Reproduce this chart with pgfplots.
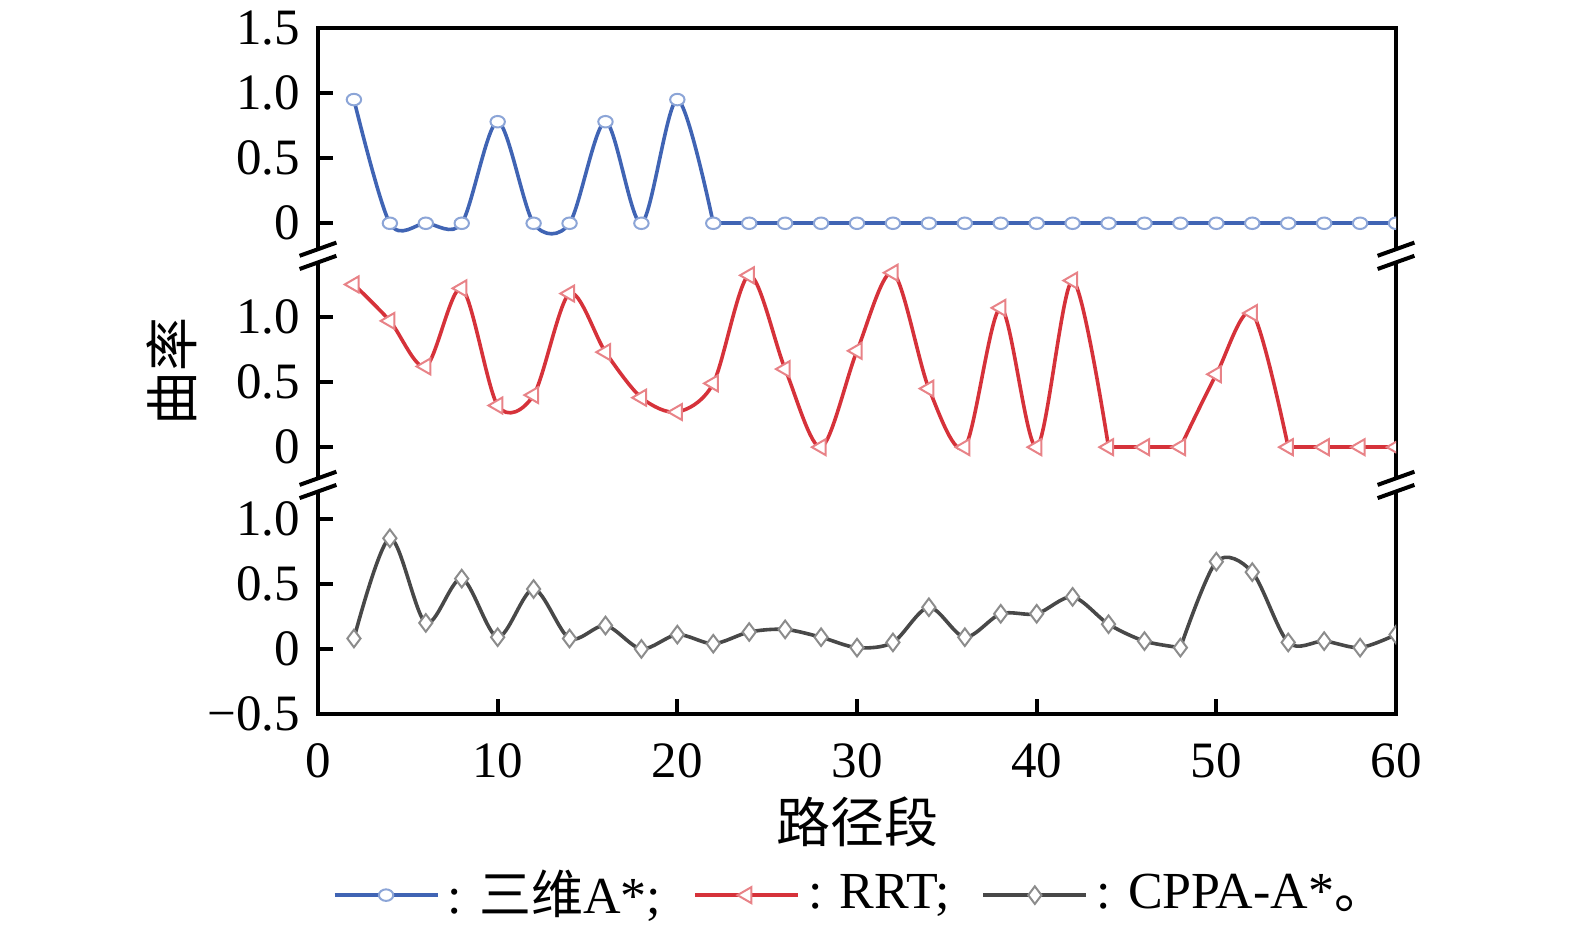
\documentclass[border=0pt]{standalone}
\usepackage{pgfplots}
\pgfplotsset{compat=1.18}
\usepackage{pgfplotstable}
\usepackage{fontspec}
\setmainfont{Liberation Serif}
\newfontfamily\cjk{Noto Sans CJK SC}

\pgfplotstableread{
x top mid bot
2  0.95 1.25 0.08
4  0.00 0.97 0.85
6  0.00 0.62 0.20
8  0.00 1.22 0.54
10 0.78 0.32 0.09
12 0.00 0.40 0.46
14 0.00 1.18 0.08
16 0.78 0.73 0.18
18 0.00 0.38 0.00
20 0.95 0.27 0.11
22 0.00 0.49 0.04
24 0.00 1.32 0.13
26 0.00 0.60 0.15
28 0.00 0.00 0.09
30 0.00 0.74 0.01
32 0.00 1.34 0.05
34 0.00 0.45 0.32
36 0.00 0.00 0.09
38 0.00 1.07 0.27
40 0.00 0.00 0.27
42 0.00 1.28 0.40
44 0.00 0.00 0.19
46 0.00 0.00 0.06
48 0.00 0.00 0.01
50 0.00 0.56 0.67
52 0.00 1.03 0.59
54 0.00 0.00 0.05
56 0.00 0.00 0.06
58 0.00 0.00 0.01
60 0.00 0.00 0.11
}\data

\definecolor{cblue}{RGB}{64,100,180}
\definecolor{cblueM}{RGB}{140,165,215}
\definecolor{cred}{RGB}{214,50,58}
\definecolor{credM}{RGB}{232,130,135}
\definecolor{cgray}{RGB}{72,72,72}
\definecolor{cgrayM}{RGB}{140,140,140}

\pgfplotsset{
  blueline/.style={cblue, line width=0.9pt},
  redline/.style={cred, line width=0.9pt},
  grayline/.style={cgray, line width=0.9pt},
  bluemark/.style={mark=*, mark size=1.8pt, mark options={draw=cblueM, fill=white, line width=0.5pt, yscale=0.8}},
  redmark/.style={mark=triangle*, mark size=2.3pt, mark options={draw=credM, fill=white, line width=0.5pt, rotate=90}},
  graymark/.style={mark=diamond*, mark size=2.2pt, mark options={draw=cgrayM, fill=white, line width=0.5pt}},
}

\begin{document}
\fontsize{12.75}{15}\selectfont
\begin{tikzpicture}
\begin{axis}[
  name=ax,
  scale only axis, width=269.5pt, height=171.5pt,
  xmin=0, xmax=60, ymin=-0.5, ymax=4.77,
  axis line style={line width=1pt},
  xtick={0,10,...,60},
  ytick={-0.5,0,0.5,1,1.55,2.05,2.55,3.27,3.77,4.27,4.77},
  yticklabels={−0.5,0,0.5,1.0,0,0.5,1.0,0,0.5,1.0,1.5},
  xtick pos=bottom, ytick pos=left,
  tick align=inside,
  major tick length=3.75pt,
  every tick/.style={black, line width=1pt},
  /pgf/number format/assume math mode=true,
  tick label style={font=\fontsize{12.75}{15}\selectfont},
  yticklabel style={inner ysep=0pt},
  xticklabel style={yshift=-3pt},
  xlabel={{\cjk 路径段}},
  ylabel={{\cjk 曲率}},
  label style={font=\fontsize{13.5}{16}\selectfont},
  xlabel style={at={(axis description cs:0.5,-0.157)}, anchor=center},
  ylabel style={at={(axis description cs:-0.136,0.5)}, anchor=center},
  clip marker paths=true,
  legend style={at={(axis description cs:0.506,-0.264)}, anchor=center, draw=none, fill=none,
    inner sep=0pt, nodes={inner ysep=0pt},
    font=\fontsize{13}{15}\selectfont,
    /tikz/every even column/.append style={column sep=6pt}},
  legend columns=3,
  legend cell align=left,
  legend image code/.code={\draw[mark repeat=2,mark phase=2,#1] plot coordinates {(0pt,0pt) (12.9pt,0pt) (25.8pt,0pt)};},
]
% --- blue (三维A*), offset 3.27
\addplot[blueline, smooth, forget plot, restrict x to domain=2:22] table[x=x, y expr=\thisrow{top}+3.27] {\data};
\addplot[blueline, forget plot, restrict x to domain=22:60] table[x=x, y expr=\thisrow{top}+3.27] {\data};
\addplot[bluemark, only marks, forget plot] table[x=x, y expr=\thisrow{top}+3.27] {\data};
% --- red (RRT), offset 1.55
\addplot[redline, smooth, forget plot, restrict x to domain=2:44] table[x=x, y expr=\thisrow{mid}+1.55] {\data};
\addplot[redline, forget plot, restrict x to domain=44:48] table[x=x, y expr=\thisrow{mid}+1.55] {\data};
\addplot[redline, smooth, forget plot, restrict x to domain=48:54] table[x=x, y expr=\thisrow{mid}+1.55] {\data};
\addplot[redline, forget plot, restrict x to domain=54:60] table[x=x, y expr=\thisrow{mid}+1.55] {\data};
\addplot[redmark, only marks, forget plot] table[x=x, y expr=\thisrow{mid}+1.55] {\data};
% --- gray (CPPA-A*)
\addplot[grayline, smooth, forget plot, restrict x to domain=2:48] table[x=x, y=bot] {\data};
\addplot[grayline, smooth, forget plot, restrict x to domain=48:60] table[x=x, y=bot] {\data};
\addplot[graymark, only marks, forget plot] table[x=x, y=bot] {\data};
% legend
\addlegendimage{blueline, bluemark}
\addlegendentry{: {\cjk 三维}A*;}
\addlegendimage{redline, redmark}
\addlegendentry{: RRT;}
\addlegendimage{grayline, graymark}
\addlegendentry{: CPPA-A*{\cjk 。}}
\coordinate (bL1) at (axis cs:0,3.02);
\coordinate (bL2) at (axis cs:0,1.26);
\coordinate (bR1) at (axis cs:60,3.02);
\coordinate (bR2) at (axis cs:60,1.26);
\end{axis}
\foreach \p in {bL1,bL2,bR1,bR2}{
  \fill[white] ([shift={(-4.6pt,0pt)}]\p) -- ([shift={(4.6pt,3.3pt)}]\p) -- ([shift={(4.6pt,0pt)}]\p) -- ([shift={(-4.6pt,-3.3pt)}]\p) -- cycle;
  \draw[black, line width=1pt] ([shift={(-4.6pt,0pt)}]\p) -- ([shift={(4.6pt,3.3pt)}]\p);
  \draw[black, line width=1pt] ([shift={(-4.6pt,-3.3pt)}]\p) -- ([shift={(4.6pt,0pt)}]\p);
}
\path ([shift={(-79.5pt,-54.25pt)}]ax.south west) rectangle ([shift={(44.75pt,7pt)}]ax.north east);
\end{tikzpicture}
\end{document}
